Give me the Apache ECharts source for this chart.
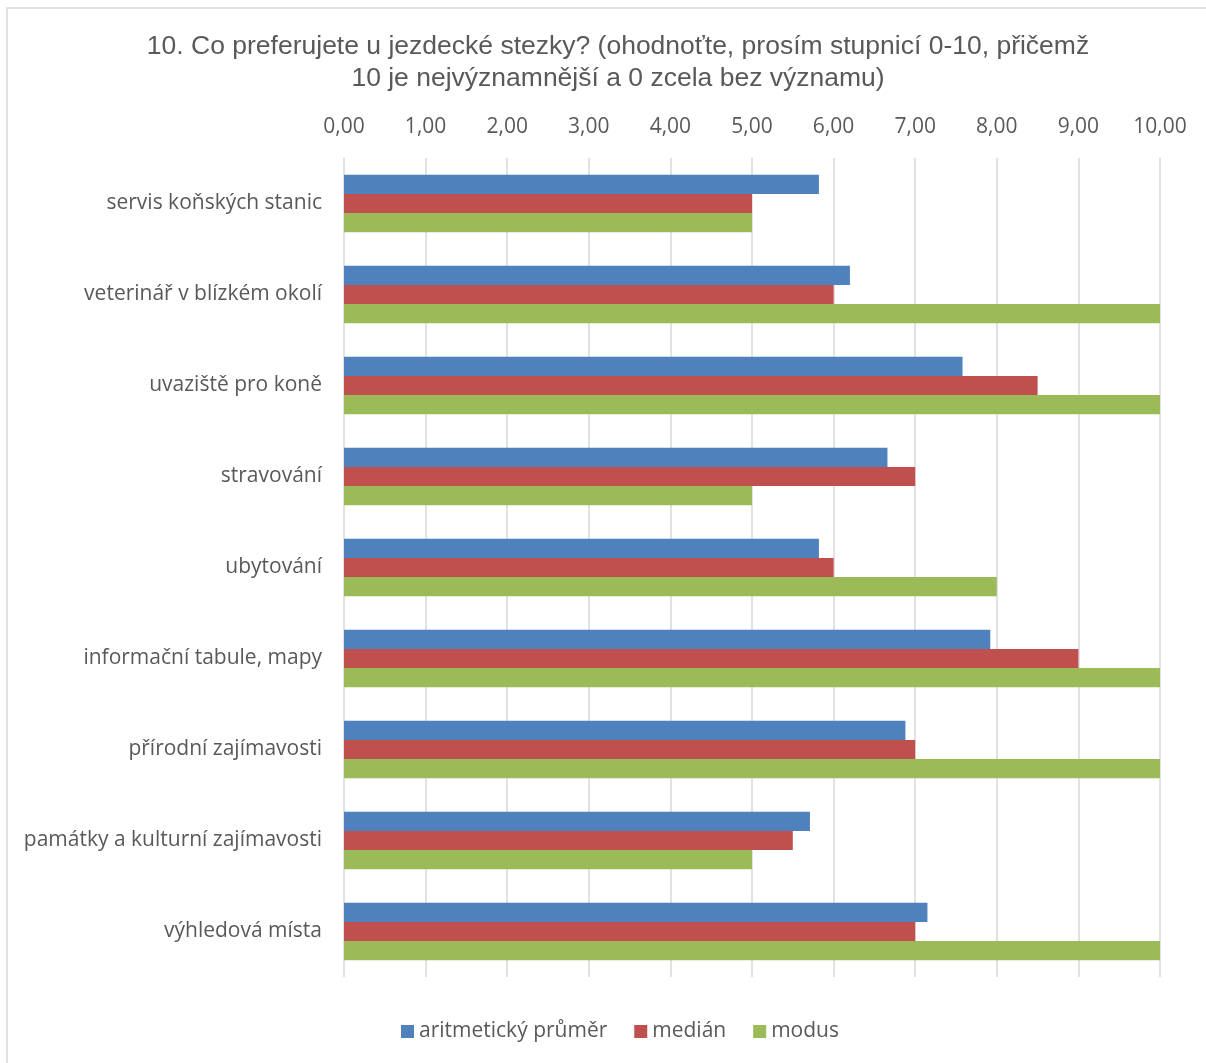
<!DOCTYPE html>
<html>
<head>
<meta charset="utf-8">
<script src="https://cdn.jsdelivr.net/npm/echarts@6/dist/echarts.min.js"></script>
<style>
html,body{margin:0;padding:0;background:#fff;}
#c{width:1206px;height:1063px;}
</style>
</head>
<body>
<div id="c"></div>
<script>
const categories = ["servis koňských stanic","veterinář v blízkém okolí","uvaziště pro koně","stravování","ubytování","informační tabule, mapy","přírodní zajímavosti","památky a kulturní zajímavosti","výhledová místa"];
const prumer = [5.82,6.20,7.58,6.66,5.82,7.92,6.88,5.71,7.15];
const median = [5,6,8.5,7,6,9,7,5.5,7];
const modus = [5,10,10,5,8,10,10,5,10];
const seriesNames = ["aritmetický průměr","medián","modus"];
const colors = ["#4f81bd","#c0504d","#9bbb59"];

const chart = echarts.init(document.getElementById('c'));
const mk = (name, data, color) => ({
  name, type:'bar', data, barGap:'0%', barCategoryGap:'37%',
  itemStyle:{color}
});
chart.setOption({
  animation:false,
  graphic:[{type:'rect',shape:{x:7,y:8,width:1210,height:1070},style:{fill:'none',stroke:'#d9d9d9',lineWidth:1.5},silent:true}],
  title:{
    text:'10. Co preferujete u jezdecké stezky? (ohodnoťte, prosím stupnicí 0-10, přičemž\n10 je nejvýznamnější a 0 zcela bez významu)',
    left:613, top:26, textAlign:'center',
    textStyle:{fontFamily:'Liberation Sans, Arial, sans-serif',fontSize:26.5,fontWeight:'normal',color:'#595959',lineHeight:32}
  },
  legend:{
    bottom:16, left:396, itemWidth:13, itemHeight:13, itemGap:27,
    icon:'rect',
    textStyle:{fontFamily:'Open Sans, sans-serif',fontSize:21,color:'#595959'},
    data:seriesNames
  },
  grid:{left:344, right:46, top:158, bottom:86, containLabel:false},
  xAxis:{
    type:'value', position:'top', min:0, max:10, interval:1,
    axisLabel:{formatter:v=>v.toFixed(2).replace('.',','),fontFamily:'Open Sans, sans-serif',fontSize:21,color:'#595959',margin:20},
    axisLine:{show:false}, axisTick:{show:false},
    splitLine:{lineStyle:{color:'#d9d9d9',width:1.5}}
  },
  yAxis:{
    type:'category', inverse:true, data:categories,
    axisLabel:{fontFamily:'Open Sans, sans-serif',fontSize:21,color:'#595959',margin:22},
    axisLine:{show:false}, axisTick:{show:false}
  },
  series:[mk(seriesNames[0],prumer,colors[0]),mk(seriesNames[1],median,colors[1]),mk(seriesNames[2],modus,colors[2])]
});
</script>
</body>
</html>
